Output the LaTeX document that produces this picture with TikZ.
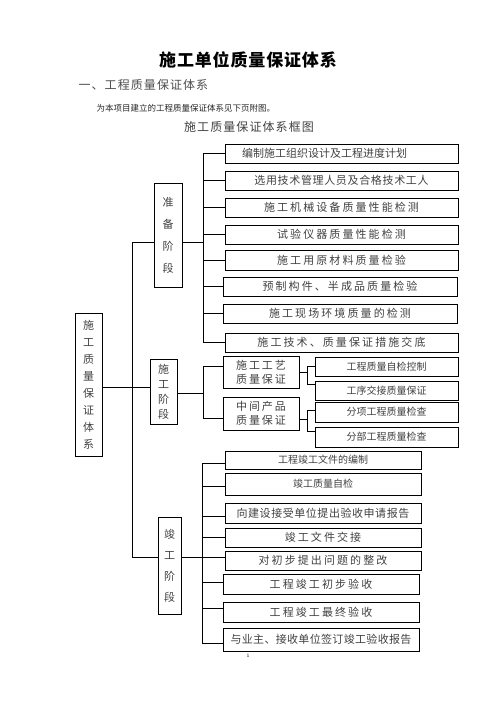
\documentclass[tikz,border=0pt]{standalone}
\usepackage{fontspec}
\newfontfamily\cjk{Noto Sans CJK SC}
\begin{document}
\begin{tikzpicture}[x=1pt,y=-1pt,
  ln/.style={line width=0.8pt},
  box/.style={draw,line width=0.9pt,inner sep=0pt,text=black!75,font=\cjk\fontsize{11}{13}\selectfont},
  sp/.style={font=\cjk\fontsize{11}{13}\selectfont\addfontfeature{LetterSpace=19}},
  sm/.style={font=\cjk\fontsize{10}{13}\selectfont},
  vt/.style={box,align=center}
]
\useasboundingbox (0,0) rectangle (496,702);
% headings
\node[font=\cjk\bfseries\fontsize{17}{20}\selectfont\addfontfeature{LetterSpace=5}] (title) at (248,60) {施工单位质量保证体系};
\node[anchor=west,text=black!70,font=\cjk\fontsize{12}{14}\selectfont\addfontfeature{LetterSpace=9}] (h1) at (75,85) {一、工程质量保证体系};
\node[anchor=west,text=black!85,font=\cjk\fontsize{8.5}{10}\selectfont] (note) at (93,108) {为本项目建立的工程质量保证体系见下页附图。};
\node[text=black!75,font=\cjk\fontsize{12}{14}\selectfont\addfontfeature{LetterSpace=9}] (cap) at (249,127) {施工质量保证体系框图};
\node[font=\fontsize{5}{6}\selectfont] (pg) at (248,656) {1};

% main and stage boxes
\node[vt,minimum width=27pt,minimum height=143pt,font=\cjk\fontsize{11}{17}\selectfont] (main) at (88.5,384.5) {施\\工\\质\\量\\保\\证\\体\\系};
\node[vt,minimum width=28pt,minimum height=104pt,font=\cjk\fontsize{11}{22}\selectfont] (prep) at (168,235) {准\\备\\阶\\段};
\node[vt,minimum width=27pt,minimum height=65pt,font=\cjk\fontsize{11}{15}\selectfont] (cons) at (163.5,391.5) {施\\工\\阶\\段};
\node[vt,minimum width=23pt,minimum height=97pt,font=\cjk\fontsize{11}{21}\selectfont] (comp) at (169.5,565.5) {竣\\工\\阶\\段};

% preparation boxes
\node[box,minimum width=233pt,minimum height=19pt] (P1) at (341.5,153.5) {编制施工组织设计及工程进度计划\hspace*{34pt}};
\node[box,minimum width=233pt,minimum height=19pt,font=\cjk\fontsize{11}{13}\selectfont\addfontfeature{LetterSpace=6}] (P2) at (341.5,180.5) {选用技术管理人员及合格技术工人};
\node[box,sp,minimum width=233pt,minimum height=19pt] (P3) at (341.5,207.5) {施工机械设备质量性能检测};
\node[box,sp,minimum width=233pt,minimum height=19pt] (P4) at (341.5,234.5) {试验仪器质量性能检测};
\node[box,sp,minimum width=233pt,minimum height=20pt] (P5) at (341.5,260) {施工用原材料质量检验};
\node[box,sp,minimum width=234pt,minimum height=19pt] (P6) at (340,286.5) {预制构件、半成品质量检验};
\node[box,sp,minimum width=234pt,minimum height=19pt] (P7) at (340,313.5) {施工现场环境质量的检测};
\node[box,sp,minimum width=233pt,minimum height=19pt] (P8) at (341.5,342.5) {施工技术、质量保证措施交底};

% construction boxes
\node[box,align=center,minimum width=76pt,minimum height=32pt,font=\cjk\fontsize{11}{14}\selectfont\addfontfeature{LetterSpace=17}] (K1) at (261,372) {施工工艺\\质量保证};
\node[box,align=center,minimum width=76pt,minimum height=33pt,font=\cjk\fontsize{11}{14}\selectfont\addfontfeature{LetterSpace=17}] (K2) at (261,413.5) {中间产品\\质量保证};
\node[box,sm,minimum width=143pt,minimum height=19pt] (S1) at (386.5,366.5) {工程质量自检控制};
\node[box,sm,minimum width=143pt,minimum height=19pt] (S2) at (386.5,390.5) {工序交接质量保证};
\node[box,sm,minimum width=143pt,minimum height=20pt] (S3) at (386.5,412) {分项工程质量检查};
\node[box,sm,minimum width=143pt,minimum height=20pt] (S4) at (386.5,437) {分部工程质量检查};

% completion boxes
\node[box,sm,minimum width=196pt,minimum height=18pt] (C1) at (323,460) {工程竣工文件的编制};
\node[box,sm,minimum width=196pt,minimum height=22pt] (C2) at (323,484) {竣工质量自检};
\node[box,minimum width=196pt,minimum height=20pt,font=\cjk\fontsize{11}{13}\selectfont\addfontfeature{LetterSpace=5}] (C3) at (323,513) {向建设接受单位提出验收申请报告};
\node[box,sp,minimum width=196pt,minimum height=19pt] (C4) at (323,537.5) {竣工文件交接};
\node[box,sp,minimum width=196pt,minimum height=19pt] (C5) at (323,560.5) {对初步提出问题的整改};
\node[box,sp,minimum width=196pt,minimum height=20pt] (C6) at (321,584) {工程竣工初步验收};
\node[box,sp,minimum width=196pt,minimum height=20pt] (C7) at (321,612) {工程竣工最终验收};
\node[box,minimum width=196pt,minimum height=23pt,font=\cjk\fontsize{11}{13}\selectfont\addfontfeature{LetterSpace=3}] (C8) at (321,639.5) {与业主、接收单位签订竣工验收报告};

% bus coordinates
\coordinate (mtop) at (132,242);
\coordinate (mmid) at (132,387);
\coordinate (mbot) at (132,557);
\coordinate (pb) at (203,242);
\coordinate (kb) at (203,393);
\coordinate (k1b) at (307,372);
\coordinate (k2b) at (307,419);
\coordinate (cb) at (202,557);

% main level
\draw[ln] (mtop) -- (mbot);
\draw[ln] (mtop) -- (prep.west|-mtop);
\draw[ln] (main.east|-mmid) -- (cons.west|-mmid);
\draw[ln] (mbot) -- (comp.west|-mbot);

% preparation bus
\draw[ln] (prep.east|-pb) -- (pb);
\draw[ln] (pb|-P1.west) -- (pb|-P8.west);
\foreach \n in {P1,P2,P3,P4,P5,P6,P7,P8} \draw[ln] (pb|-\n.west) -- (\n.west);

% construction bus
\draw[ln] (cons.east|-kb) -- (kb);
\draw[ln] (203,366) -- (203,418);
\draw[ln] (203,366) -- (K1.west|-0,366);
\draw[ln] (203,418) -- (K2.west|-0,418);
\draw[ln] (K1.east|-k1b) -- (k1b);
\draw[ln] (307,366.5) -- (307,384);
\draw[ln] (307,366.5) -- (S1.west);
\draw[ln] (307,384) -- (S2.west|-0,384);
\draw[ln] (K2.east|-k2b) -- (k2b);
\draw[ln] (307,410) -- (307,431);
\draw[ln] (307,410) -- (S3.west|-0,410);
\draw[ln] (307,431) -- (S4.west|-0,431);

% completion bus
\draw[ln] (comp.east|-cb) -- (cb);
\draw[ln] (202,463) -- (202,643);
\draw[ln] (202,463) -- (C1.west|-0,463);
\draw[ln] (202,486) -- (C2.west|-0,486);
\draw[ln] (202,516) -- (C3.west|-0,516);
\draw[ln] (202,537) -- (C4.west|-0,537);
\draw[ln] (202,557) -- (C5.west|-0,557);
\draw[ln] (202,582) -- (C6.west|-0,582);
\draw[ln] (202,608) -- (C7.west|-0,608);
\draw[ln] (202,643) -- (C8.west|-0,643);
\end{tikzpicture}
\end{document}
